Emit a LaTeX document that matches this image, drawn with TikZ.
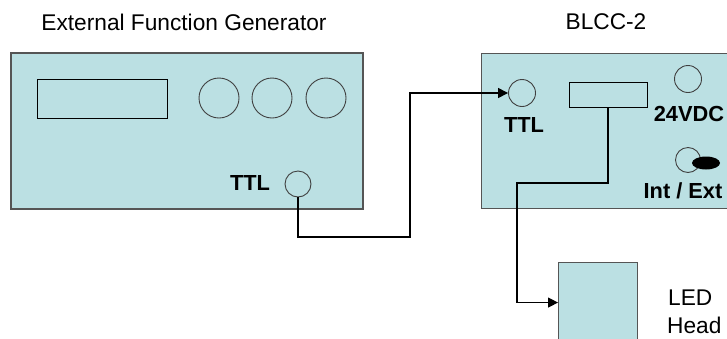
\documentclass[tikz,border=0pt]{standalone}
\usepackage{fontspec}
\setmainfont{Liberation Sans}
\usetikzlibrary{arrows.meta,shapes.geometric}
\definecolor{panel}{RGB}{187,224,227}
\definecolor{edge}{RGB}{85,85,85}
\tikzset{
  panelbox/.style={draw=edge, line width=1.4pt, fill=panel, rectangle, inner sep=0pt},
  knob/.style={draw=black!75, line width=0.9pt, circle, inner sep=0pt},
  slot/.style={draw=black, line width=1pt, rectangle, inner sep=0pt},
  wire/.style={draw=black, line width=1.3pt},
  arrowwire/.style={wire, -{Triangle[length=10pt,width=10pt]}},
  lbl/.style={inner sep=0pt, font=\fontsize{22.7}{27}\selectfont},
  blbl/.style={inner sep=0pt, font=\fontsize{21.8}{26}\selectfont\bfseries},
}
\begin{document}
\begin{tikzpicture}[x=1pt,y=-1pt]
\useasboundingbox (0,0) rectangle (727,338);
\clip (0,0) rectangle (727,338);
% titles
\node[lbl] (t1) at (184,22) {External Function Generator};
\node[lbl] (t2) at (606,22) {BLCC-2};
% function generator
\node[panelbox, minimum width=352pt, minimum height=156pt] (fg) at (187,131) {};
\node[slot, minimum width=130pt, minimum height=39pt] (disp) at (102,98.5) {};
\node[knob, minimum size=40pt] (k1) at (219,98) {};
\node[knob, minimum size=40pt] (k2) at (272,98) {};
\node[knob, minimum size=40pt] (k3) at (326,98) {};
\node[knob, minimum size=26pt] (ttlfg) at (298,184) {};
\node[blbl] (ttlfgl) at (250,183) {TTL};
% BLCC-2
\node[panelbox, minimum width=270pt, minimum height=155pt, anchor=north west] (blcc) at (481,53) {};
\node[knob, minimum size=27pt] (ttlb) at (522,93) {};
\node[blbl] (ttlbl) at (524,125) {TTL};
\node[slot, fill=panel, minimum width=78pt, minimum height=25pt] (rect) at (608,94.5) {};
\node[knob, minimum size=27pt] (dc) at (688,79) {};
\node[blbl] (dcl) at (689,114) {24VDC};
\node[knob, minimum size=25pt] (sw) at (688,160) {};
\node[ellipse, fill=black, minimum width=28pt, minimum height=13pt, inner sep=0pt] (swb) at (706,163) {};
\node[blbl] (swl) at (683,191) {Int / Ext};
% LED head
\node[panelbox, line width=1.1pt, minimum width=79pt, minimum height=80pt, anchor=north west] (led) at (558,262) {};
\node[lbl, anchor=west] (ledl1) at (668,298) {LED};
\node[lbl, anchor=west] (ledl2) at (667,325) {Head};
% wires
\coordinate (w1) at (410,237);
\coordinate (w2) at (517,183);
\draw[arrowwire] (ttlfg.south) |- (w1) |- (ttlb.west);
\draw[arrowwire] (rect.south) |- (w2) |- (led.west);
\end{tikzpicture}
\end{document}
